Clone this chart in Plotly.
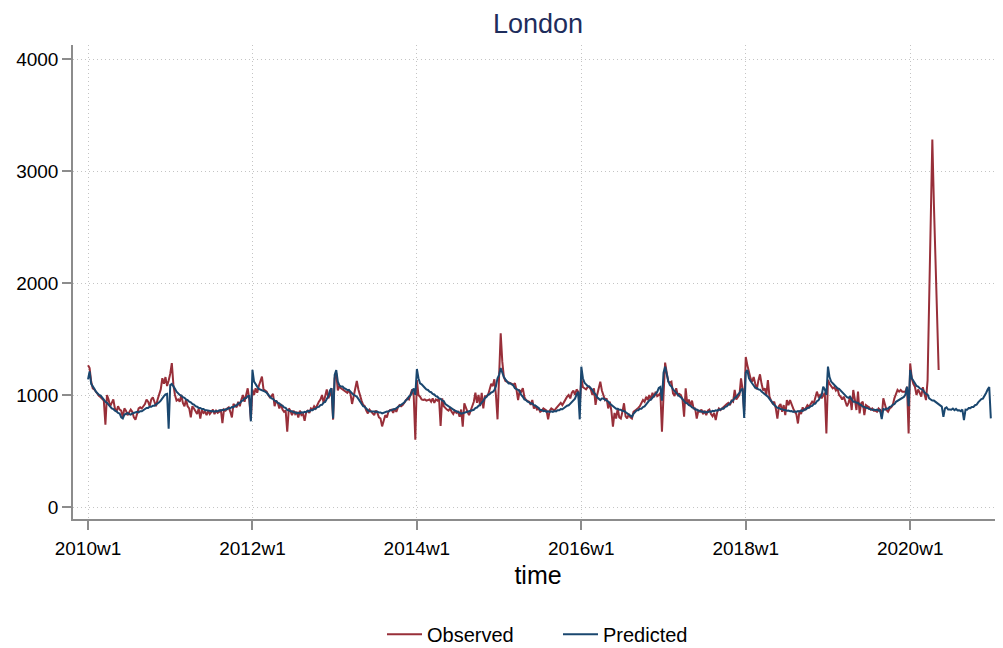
import plotly.graph_objects as go

# weekly deaths, London, 2010w1 .. 2020w52 (52 weeks per year, Stata %tw)
tick_vals = [0, 104, 208, 312, 416, 520]
tick_labels = ["2010w1", "2012w1", "2014w1", "2016w1", "2018w1", "2020w1"]

obs_2010 = [1265, 1240, 1120, 1060, 1050, 1030, 1000, 990, 980, 960, 950, 735, 1000,
            960, 900, 930, 960, 880, 850, 900, 870, 860, 800, 880, 860, 820,
            840, 870, 850, 800, 780, 840, 880, 890, 880, 900, 920, 960, 940,
            900, 960, 980, 930, 900, 960, 1000, 1050, 1150, 1100, 1160, 1080, 1130]
obs_2011 = [1190, 1285, 1090, 1000, 950, 960, 940, 1000, 930, 900, 960, 900, 880,
            800, 900, 880, 860, 830, 880, 790, 870, 840, 850, 820, 860, 830,
            850, 870, 830, 860, 840, 850, 870, 750, 870, 860, 880, 890, 850,
            800, 920, 900, 890, 940, 900, 960, 1000, 940, 990, 1060, 960, 780]
obs_2012 = [1050, 1000, 1060, 1020, 1080, 1134, 1164, 1050, 1040, 1030, 1000, 980, 990,
            1010, 900, 950, 930, 880, 920, 870, 850, 860, 672, 880, 860, 820,
            860, 830, 850, 800, 860, 820, 830, 770, 850, 860, 840, 880, 870,
            900, 880, 920, 940, 960, 1000, 930, 980, 1050, 970, 1000, 1060, 780]
obs_2013 = [1150, 1195, 1040, 1080, 1060, 1050, 1040, 1030, 1020, 1040, 1010, 920, 1000,
            1060, 1125, 1050, 985, 950, 912, 900, 860, 836, 870, 850, 830, 820,
            860, 840, 800, 790, 720, 780, 820, 800, 850, 866, 870, 840, 880,
            850, 890, 910, 900, 910, 930, 950, 970, 960, 1000, 1050, 990, 600]
obs_2014 = [1134, 1000, 985, 960, 955, 960, 950, 955, 960, 940, 970, 930, 960,
            950, 970, 723, 970, 900, 880, 870, 860, 880, 850, 830, 860, 840,
            850, 806, 870, 717, 926, 880, 850, 820, 870, 900, 940, 1020, 930,
            1000, 900, 1020, 880, 990, 990, 1000, 1050, 1100, 1080, 1140, 1000, 783]
obs_2015 = [1170, 1550, 1300, 1160, 1125, 1120, 1117, 1110, 1100, 1090, 1105, 1045, 955,
            1040, 1030, 1060, 980, 955, 950, 940, 912, 955, 880, 900, 870, 880,
            850, 860, 880, 870, 860, 783, 860, 880, 870, 860, 880, 900, 920,
            930, 910, 940, 955, 985, 1000, 970, 1020, 1040, 1000, 1050, 1030, 900]
obs_2016 = [1150, 1070, 1060, 1050, 1070, 1074, 1050, 1000, 1060, 912, 1000, 1070, 1119,
            1040, 985, 955, 970, 880, 940, 860, 717, 840, 790, 880, 800, 790,
            850, 926, 810, 790, 830, 800, 790, 850, 860, 870, 885, 900, 926,
            955, 940, 985, 955, 1000, 955, 1020, 980, 1030, 990, 1000, 1020, 672]
obs_2017 = [1000, 1290, 1200, 1119, 1110, 1119, 1015, 990, 1060, 1000, 1010, 1000, 960,
            806, 1060, 920, 960, 900, 950, 880, 880, 790, 860, 850, 870, 830,
            860, 820, 860, 870, 830, 810, 840, 777, 850, 880, 866, 880, 900,
            905, 920, 930, 910, 950, 940, 1045, 960, 980, 1000, 1149, 1050, 850]
obs_2018 = [1340, 1267, 1200, 1150, 1119, 1160, 1100, 1050, 1130, 1185, 1100, 1040, 1060,
            1000, 1134, 985, 950, 925, 940, 880, 790, 900, 920, 850, 910, 820,
            955, 910, 955, 910, 880, 850, 830, 746, 860, 830, 890, 860, 880,
            910, 895, 925, 940, 925, 985, 1030, 985, 1000, 970, 1000, 1020, 657]
obs_2019 = [1134, 1100, 1080, 1060, 1070, 1040, 1060, 1000, 985, 960, 985, 930, 900,
            930, 985, 866, 1045, 960, 866, 1030, 836, 926, 940, 820, 910, 900,
            890, 870, 880, 860, 860, 850, 880, 866, 806, 970, 926, 866, 850,
            880, 890, 910, 970, 1000, 1045, 1030, 1045, 1030, 1030, 1030, 1074, 657]
obs_2020 = [1282, 1150, 1100, 1074, 1000, 1050, 1020, 985, 1070, 1000, 955, 1130, 1800,
            2600, 3280, 2700, 2200, 1700, 1223]

pred_2010 = [1140, 1210, 1100, 1070, 1055, 1030, 1015, 1000, 995, 975, 965, 940, 930,
             910, 900, 880, 875, 860, 855, 840, 835, 800, 790, 825, 830, 840,
             830, 825, 835, 840, 850, 850, 845, 855, 855, 865, 870, 885, 885,
             895, 895, 905, 905, 915, 920, 935, 950, 975, 990, 1005, 1010, 700]
pred_2011 = [1090, 1100, 1070, 1055, 1030, 1015, 1000, 995, 980, 975, 960, 955, 940,
             935, 920, 915, 900, 895, 885, 885, 875, 875, 865, 865, 860, 862,
             856, 858, 852, 858, 855, 863, 860, 868, 865, 873, 872, 883, 882,
             893, 892, 905, 908, 925, 928, 945, 952, 970, 972, 990, 992, 765]
pred_2012 = [1225, 1120, 1090, 1075, 1055, 1050, 1040, 1038, 1030, 1020, 1000, 990, 970,
             965, 950, 945, 930, 925, 910, 905, 890, 885, 866, 865, 855, 855,
             845, 845, 836, 842, 838, 845, 843, 850, 847, 858, 856, 865, 864,
             875, 878, 892, 894, 910, 913, 932, 938, 965, 988, 1040, 1060, 790]
pred_2013 = [1180, 1223, 1120, 1085, 1075, 1075, 1060, 1055, 1045, 1045, 1030, 1015, 1000,
             995, 985, 965, 940, 925, 900, 895, 875, 865, 855, 855, 850, 852,
             848, 852, 843, 844, 836, 843, 843, 853, 852, 863, 864, 873, 873,
             884, 888, 904, 912, 928, 932, 953, 962, 988, 998, 1033, 1058, 1000]
pred_2014 = [1232, 1150, 1104, 1095, 1075, 1065, 1050, 1045, 1030, 1025, 1010, 1005, 990,
             985, 970, 965, 950, 945, 920, 910, 896, 890, 875, 870, 860, 855,
             845, 843, 834, 839, 838, 848, 848, 858, 857, 869, 868, 883, 888,
             903, 912, 933, 947, 973, 982, 1003, 1008, 1023, 1028, 1043, 1078, 1150]
pred_2015 = [1180, 1241, 1200, 1160, 1140, 1125, 1104, 1105, 1095, 1085, 1060, 1055, 1045,
             1035, 1000, 985, 960, 955, 940, 935, 925, 925, 910, 905, 895, 885,
             866, 866, 856, 859, 850, 854, 849, 855, 849, 856, 853, 864, 864,
             874, 873, 884, 888, 904, 908, 924, 933, 954, 968, 1004, 1028, 783]
pred_2016 = [1253, 1150, 1110, 1095, 1080, 1075, 1060, 1045, 1020, 1005, 980, 965, 955,
             968, 968, 958, 948, 943, 923, 913, 898, 893, 878, 878, 868, 869,
             858, 858, 848, 843, 828, 823, 806, 833, 848, 863, 864, 878, 878,
             893, 898, 918, 928, 953, 958, 978, 988, 1013, 1028, 1063, 1072, 950]
pred_2017 = [1200, 1253, 1180, 1125, 1090, 1075, 1050, 1035, 1015, 1005, 990, 980, 960,
             950, 930, 925, 910, 905, 890, 885, 870, 870, 860, 860, 850, 852,
             845, 849, 846, 854, 850, 859, 856, 863, 860, 870, 868, 879, 878,
             894, 898, 914, 923, 944, 953, 974, 983, 1004, 1018, 1044, 1058, 795]
pred_2018 = [1200, 1223, 1150, 1125, 1100, 1085, 1065, 1063, 1050, 1048, 1030, 1020, 1005,
             1003, 985, 965, 945, 935, 910, 900, 885, 884, 875, 874, 866, 866,
             860, 862, 855, 857, 849, 855, 849, 856, 853, 862, 856, 870, 870,
             884, 886, 900, 903, 919, 923, 944, 953, 979, 998, 1074, 1050, 1000]
pred_2019 = [1253, 1160, 1120, 1105, 1090, 1080, 1060, 1055, 1040, 1025, 1005, 995, 980,
             975, 985, 960, 940, 940, 930, 930, 915, 910, 896, 894, 885, 884,
             875, 874, 866, 870, 864, 870, 860, 864, 784, 874, 870, 879, 878,
             894, 898, 914, 918, 939, 948, 964, 968, 979, 983, 1004, 1074, 900]
pred_2020 = [1223, 1150, 1120, 1105, 1080, 1075, 1060, 1055, 1045, 1025, 1010, 1005, 970,
             960, 950, 950, 940, 930, 920, 910, 896, 806, 880, 889, 870, 870,
             868, 879, 864, 876, 863, 864, 856, 870, 777, 870, 868, 884, 883,
             894, 894, 909, 913, 934, 948, 964, 968, 989, 1018, 1049, 1072, 791]

observed = (obs_2010 + obs_2011 + obs_2012 + obs_2013 + obs_2014 + obs_2015
            + obs_2016 + obs_2017 + obs_2018 + obs_2019 + obs_2020)
predicted = (pred_2010 + pred_2011 + pred_2012 + pred_2013 + pred_2014 + pred_2015
             + pred_2016 + pred_2017 + pred_2018 + pred_2019 + pred_2020)

font = "Liberation Sans, Arial, sans-serif"

fig = go.Figure()
fig.add_trace(go.Scatter(x=list(range(len(observed))), y=observed, name="Observed",
                         mode="lines", line=dict(color="#982f39", width=2)))
fig.add_trace(go.Scatter(x=list(range(len(predicted))), y=predicted, name="Predicted",
                         mode="lines", line=dict(color="#1a476f", width=2)))

axis_common = dict(showline=True, linecolor="#8c8c8c", linewidth=1.5,
                   ticks="outside", ticklen=9, tickcolor="#8c8c8c", tickwidth=1.5,
                   showgrid=True, gridcolor="#c4c4c4", griddash="1px,3px", gridwidth=1,
                   zeroline=False, automargin=False,
                   tickfont=dict(size=19, color="black"))

# page body adds an 8px offset, so the figure origin sits at (8, 8)
fig.update_layout(
    width=995, height=648,
    margin=dict(l=65, r=0, t=37, b=137),
    paper_bgcolor="white", plot_bgcolor="white",
    font=dict(family=font, color="black"),
    title=dict(text="London", x=0.5, xref="paper", y=1 - 16 / 648, yref="container",
               yanchor="middle", font=dict(size=27, color="#1e2d5c")),
    xaxis=dict(range=[-9.5, 578.7], tickvals=tick_vals, ticktext=tick_labels,
               ticklabelstandoff=2,
               title=dict(text="time", font=dict(size=25), standoff=9), **axis_common),
    yaxis=dict(range=[-107, 4125], tickvals=[0, 1000, 2000, 3000, 4000], **axis_common),
    legend=dict(orientation="h", x=0.5215, xanchor="center", y=-0.243, yanchor="middle",
                font=dict(size=20), entrywidth=126, itemwidth=35),
    showlegend=True,
)

fig.write_html("out.html")
